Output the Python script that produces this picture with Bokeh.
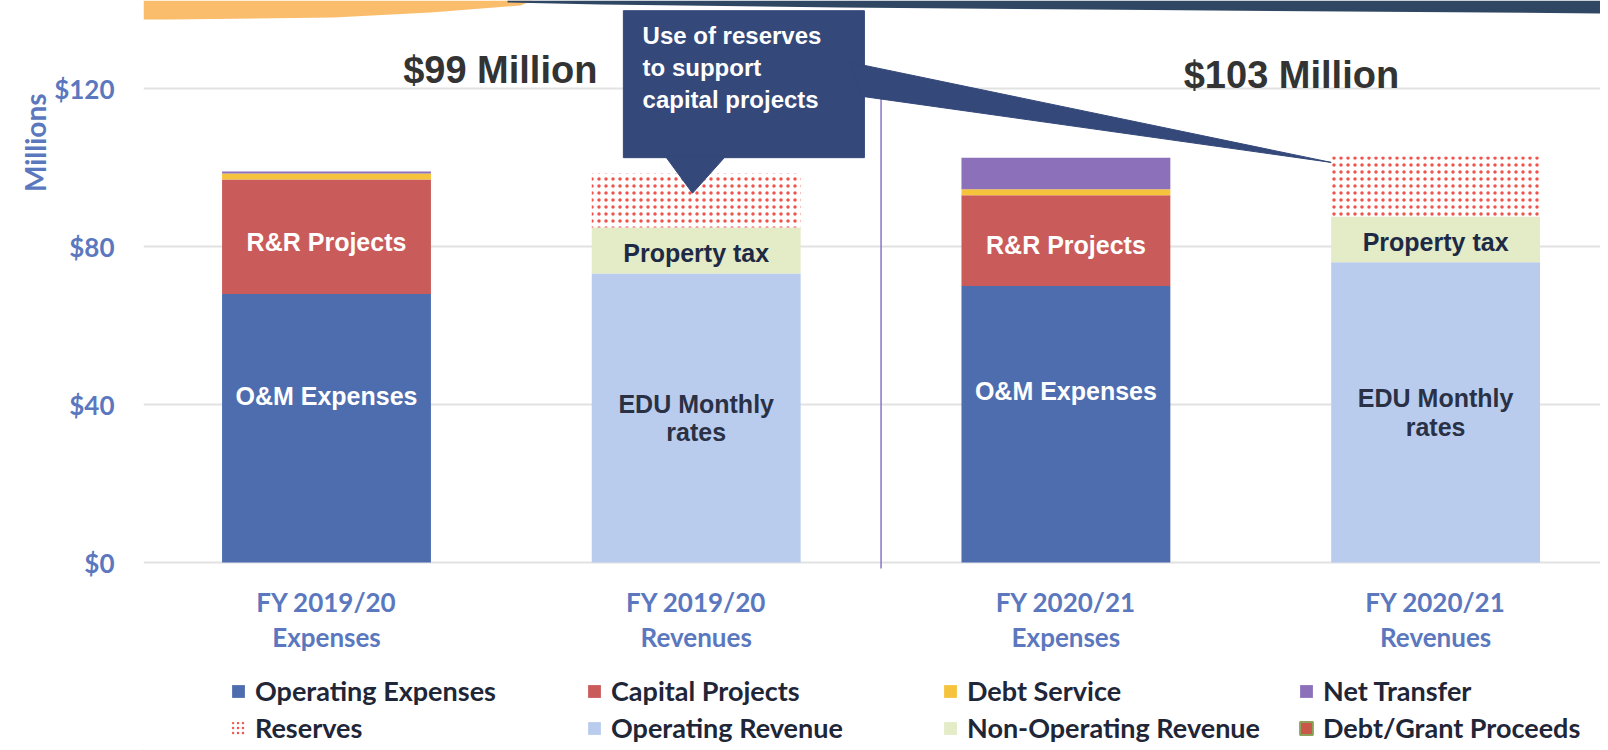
from bokeh.plotting import figure
from bokeh.layouts import column
from bokeh.models import (ColumnDataSource, FixedTicker, LinearAxis, Legend,
                          LegendItem, Range1d, Title)
from bokeh.core.properties import value
from bokeh.embed import file_html
from bokeh.resources import INLINE

# ---------------- data ----------------
cat_line1 = ["FY 2019/20", "FY 2019/20", "FY 2020/21", "FY 2020/21"]
cat_line2 = ["Expenses", "Revenues", "Expenses", "Revenues"]

operating_expenses = [68.0, 0.0, 70.0, 0.0]
capital_projects = [29.0, 0.0, 23.0, 0.0]
debt_service = [1.5, 0.0, 1.5, 0.0]
net_transfer = [0.5, 0.0, 8.0, 0.0]
operating_revenue = [0.0, 73.2, 0.0, 76.0]
non_operating_revenue = [0.0, 11.6, 0.0, 11.6]
reserves = [0.0, 13.7, 0.0, 15.2]
debt_grant_proceeds = [0.0, 0.0, 0.0, 0.0]

group_titles = ["$99 Million", "$103 Million"]
y_ticks = [0, 40, 80, 120]
y_tick_labels = ["$0", "$40", "$80", "$120"]
y_axis_title = "Millions"
callout_text = "Use of reserves\nto support\ncapital projects"

seg_label_text = ["O&M Expenses", "R&R Projects", "Property tax", "EDU Monthly\nrates",
                  "O&M Expenses", "R&R Projects", "Property tax", "EDU Monthly\nrates"]
seg_label_bar = [0, 0, 1, 1, 2, 2, 3, 3]
seg_label_series = ["operating_expenses", "capital_projects", "non_operating_revenue", "operating_revenue",
                    "operating_expenses", "capital_projects", "non_operating_revenue", "operating_revenue"]

# ---------------- styles ----------------
stack_keys = ["operating_expenses", "capital_projects", "debt_service", "net_transfer",
              "operating_revenue", "non_operating_revenue", "reserves"]
legend_order = ["operating_expenses", "capital_projects", "debt_service", "net_transfer",
                "reserves", "operating_revenue", "non_operating_revenue", "debt_grant_proceeds"]
series_label = {
    "operating_expenses": "Operating Expenses",
    "capital_projects": "Capital Projects",
    "debt_service": "Debt Service",
    "net_transfer": "Net Transfer",
    "reserves": "Reserves",
    "operating_revenue": "Operating Revenue",
    "non_operating_revenue": "Non-Operating Revenue",
    "debt_grant_proceeds": "Debt/Grant Proceeds",
}
fill = {
    "operating_expenses": "#4E6DAF",
    "capital_projects": "#C95B5A",
    "debt_service": "#F6C33D",
    "net_transfer": "#8C70B9",
    "operating_revenue": "#B9CCEE",
    "non_operating_revenue": "#E3EBC7",
    "reserves": "#FFFFFF",
    "debt_grant_proceeds": "#C9574A",
}
label_color = {"operating_expenses": "#FFFFFF", "capital_projects": "#FFFFFF",
               "non_operating_revenue": "#1E2A45", "operating_revenue": "#2A3145"}
label_frac = {"operating_expenses": 0.62, "capital_projects": 0.45,
              "non_operating_revenue": 0.45, "operating_revenue": 0.5}

TICK_BLUE = "#5B78BF"
ARIAL = "Liberation Sans"
CAL = "Lato"
HATCH = dict(hatch_color="#F0524C", hatch_scale=7, hatch_weight=5)

xs = list(range(len(cat_line1)))
bar_w = 0.565

X0, X1 = -0.495, 3.446
Y0, Y1 = -2.0, 142.28
LEFT, WIDTH, FRAME_H = 143, 1600, 570

data = dict(x=xs,
            operating_expenses=operating_expenses,
            capital_projects=capital_projects,
            debt_service=debt_service,
            net_transfer=net_transfer,
            operating_revenue=operating_revenue,
            non_operating_revenue=non_operating_revenue,
            reserves=reserves)
src = ColumnDataSource(data)

p = figure(width=WIDTH, height=655, output_backend="svg", toolbar_location=None,
           x_range=Range1d(X0, X1), y_range=Range1d(Y0, Y1),
           min_border_left=LEFT, min_border_right=0, min_border_top=0,
           min_border_bottom=85)
p.outline_line_color = None
p.background_fill_color = "white"

# slide decoration along the top edge (page pixels -> plot units)
def px_x(v):
    return X0 + (v - LEFT) * (X1 - X0) / (WIDTH - LEFT)

def px_y(v):
    return Y1 - v * (Y1 - Y0) / FRAME_H

orange_px = [(143, 0), (532, 0), (520, 5), (430, 12), (333, 17), (170, 19), (143, 19)]
band_px = [(507, 0), (1610, 0), (1610, 13), (1088, 9), (840, 7), (600, 4), (507, 2)]
p.patch(x=[px_x(a) for a, b in orange_px], y=[px_y(b) for a, b in orange_px],
        fill_color="#FABD6C", line_color=None)
p.patch(x=[px_x(a) for a, b in band_px], y=[px_y(b) for a, b in band_px],
        fill_color="#2F4763", line_color=None)

p.vbar_stack(stack_keys, x="x", width=bar_w, source=src,
             fill_color=[fill[k] for k in stack_keys],
             line_color=None, line_width=0,
             hatch_pattern=["dot" if k == "reserves" else " " for k in stack_keys],
             **HATCH)

# segment labels computed from stacked data
lx, ly, lt, lc = [], [], [], []
for txt, b, key in zip(seg_label_text, seg_label_bar, seg_label_series):
    bottom = sum(data[k][b] for k in stack_keys[:stack_keys.index(key)])
    h = data[key][b]
    lx.append(xs[b]); ly.append(bottom + label_frac[key] * h)
    lt.append(txt); lc.append(label_color[key])
p.text(x=lx, y=ly, text=lt, text_color=lc, text_font=value(ARIAL),
       text_font_size="25px", text_font_style="bold", text_align="center",
       text_baseline="middle", text_line_height=1.03)

# divider between the two years
mid = (xs[1] + xs[2]) / 2
p.segment(x0=[mid], y0=[-1.5], x1=[mid], y1=[119], line_color="#8A76C4", line_width=1.5)

# group titles
p.text(x=[0.47, 2.61], y=[124.8, 123.5], text=group_titles, text_color="#333333",
       text_font=value(ARIAL), text_font_size="38px", text_font_style="bold",
       text_align="center", text_baseline="middle")

# callout
totals = [sum(data[k][i] for k in stack_keys) for i in xs]
NAVY = "#34487A"
p.quad(left=[0.803], right=[1.455], bottom=[102.5], top=[139.7],
       fill_color=NAVY, line_color=NAVY)
p.patch(x=[0.917, 1.079, xs[1] - 0.01], y=[102.8, 102.8, totals[1] - 5.0],
        fill_color=NAVY, line_color=NAVY)
p.patch(x=[1.417, 1.45, xs[3] - bar_w / 2], y=[126.6, 118.0, totals[3] - 1.5],
        fill_color=NAVY, line_color=NAVY)
p.text(x=[0.855], y=[125.3], text=[callout_text], text_color="white",
       text_font=value(ARIAL), text_font_size="24px", text_font_style="bold",
       text_align="left", text_baseline="middle", text_line_height=1.17)

# axes
p.yaxis.ticker = FixedTicker(ticks=y_ticks)
p.yaxis.major_label_overrides = {t: l for t, l in zip(y_ticks, y_tick_labels)}
p.yaxis.axis_line_color = None
p.yaxis.major_tick_line_color = None
p.yaxis.minor_tick_line_color = None
p.yaxis.major_label_standoff = 23
p.yaxis.major_label_text_font = CAL
p.yaxis.major_label_text_font_size = "26px"
p.yaxis.major_label_text_font_style = "bold"
p.yaxis.major_label_text_color = TICK_BLUE

p.ygrid.ticker = FixedTicker(ticks=y_ticks)
p.ygrid.grid_line_color = "#E2E2E2"
p.ygrid.grid_line_width = 2
p.xgrid.visible = False

def style_x(ax, labels, standoff):
    ax.ticker = FixedTicker(ticks=xs)
    ax.major_label_overrides = {x: l for x, l in zip(xs, labels)}
    ax.axis_line_color = None
    ax.major_tick_line_color = None
    ax.minor_tick_line_color = None
    ax.major_label_standoff = standoff
    ax.major_label_text_font = CAL
    ax.major_label_text_font_size = "26px"
    ax.major_label_text_font_style = "bold"
    ax.major_label_text_color = TICK_BLUE

style_x(p.xaxis[0], cat_line1, 9)
ax2 = LinearAxis()
style_x(ax2, cat_line2, -6)
p.add_layout(ax2, "below")

p.add_layout(Title(text=y_axis_title, align="right", offset=93, standoff=0,
                   text_font=CAL, text_font_size="28px", text_font_style="bold",
                   text_color=TICK_BLUE), "left")

# ---------------- legend strip ----------------
lg = figure(width=WIDTH, height=95, output_backend="svg", toolbar_location=None,
            x_range=Range1d(0, 1), y_range=Range1d(0, 1),
            min_border_left=0, min_border_right=0, min_border_top=0, min_border_bottom=0)
lg.axis.visible = False
lg.grid.visible = False
lg.outline_line_color = None

items = []
for k in legend_order:
    kw = dict(fill_color=fill[k], line_color=None)
    if k == "reserves":
        kw.update(hatch_pattern="dot", hatch_color="#F0524C", hatch_scale=5, hatch_weight=2.5)
    if k == "debt_grant_proceeds":
        kw.update(line_color="#8FA05A", line_width=2)
    # legend proxy glyph, kept outside the visible range
    r = lg.vbar(x=[-5.0], top=[0.0], width=0.1, **kw)
    items.append(LegendItem(label=series_label[k], renderers=[r]))

legend = Legend(items=items, location=(87, 4), ncols=4, orientation="horizontal",
                glyph_width=16, glyph_height=16, label_standoff=9, label_width=331,
                label_height=37, spacing=0, padding=0, margin=0,
                border_line_alpha=0, background_fill_alpha=0,
                label_text_font=CAL, label_text_font_size="27px",
                label_text_font_style="bold", label_text_color="#1F2638")
lg.add_layout(legend, "center")

layout = column(p, lg, spacing=0)
open("out.html", "w").write(file_html(layout, INLINE))
